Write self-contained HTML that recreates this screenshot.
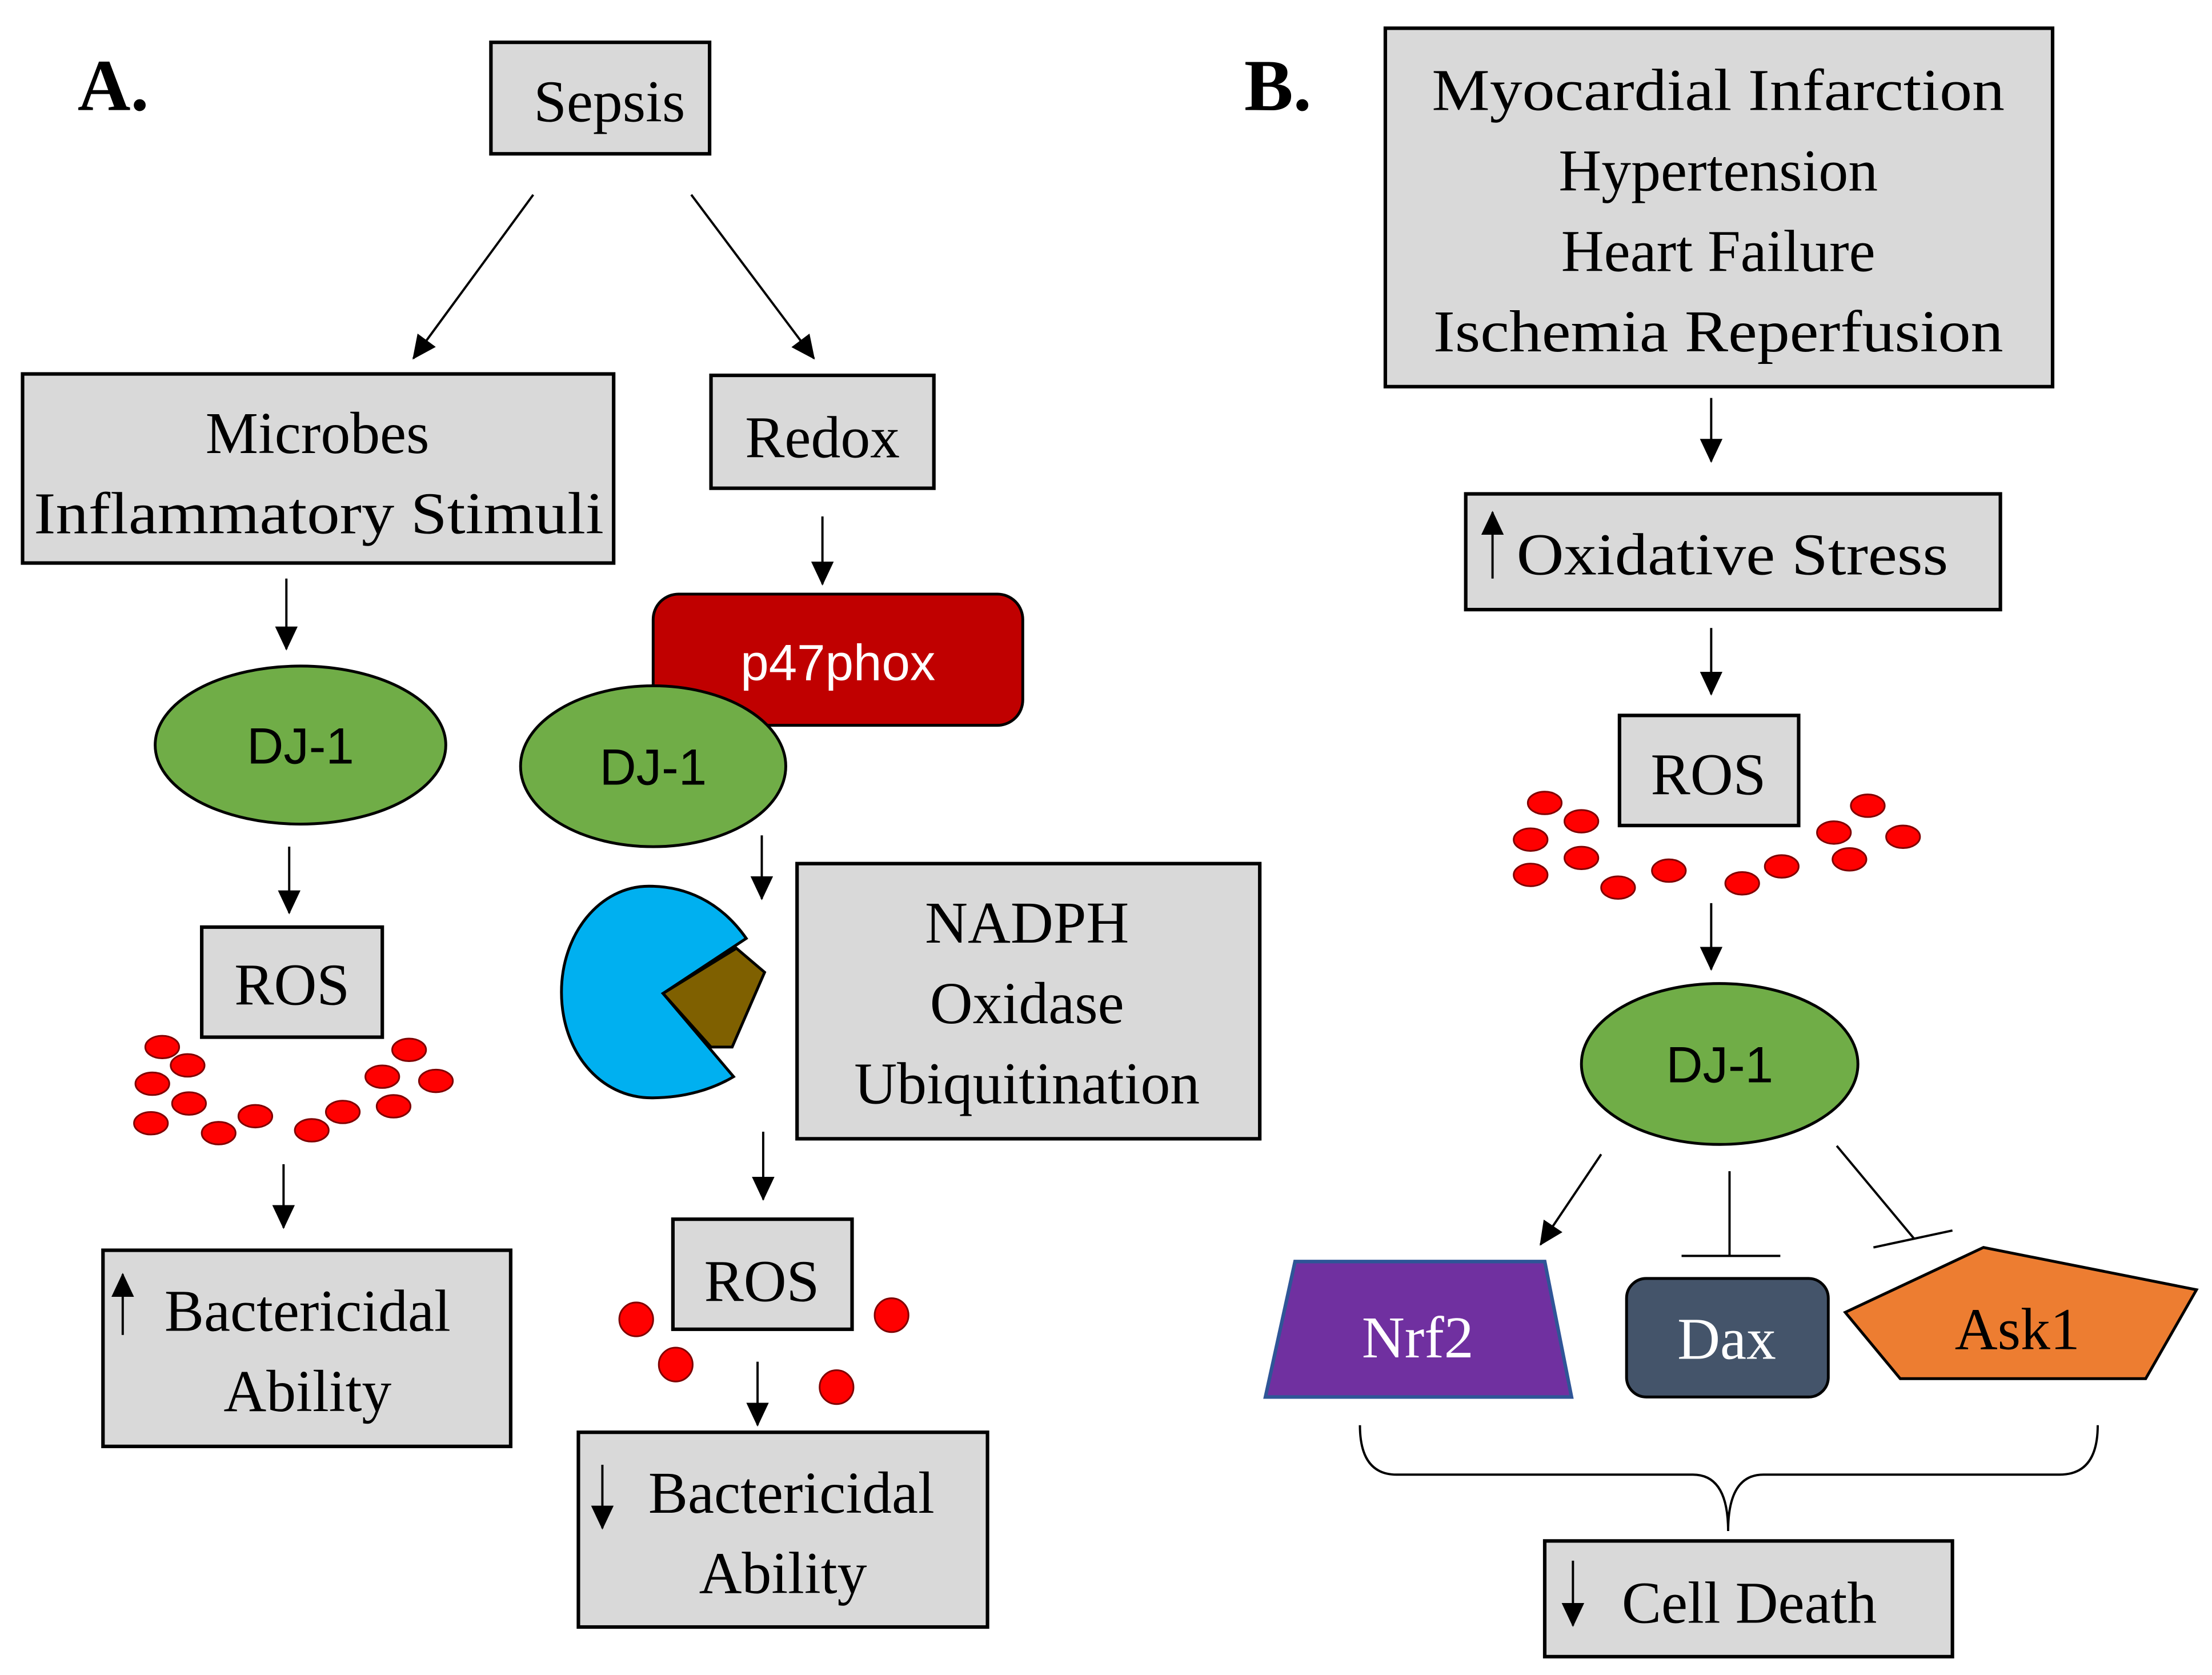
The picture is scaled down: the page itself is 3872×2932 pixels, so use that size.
<!DOCTYPE html>
<html><head><meta charset="utf-8"><style>
html,body{margin:0;padding:0;background:#fff;}
svg{display:block;}
.s{font-family:"Liberation Serif",serif;font-size:42px;fill:#000;text-anchor:middle;}
.ss{font-family:"Liberation Sans",sans-serif;font-size:36px;text-anchor:middle;}
.box{fill:#D9D9D9;stroke:#000;stroke-width:2.5;}
.ln{stroke:#000;stroke-width:1.6;fill:none;}
.dot{fill:#FF0000;stroke:#7F0000;stroke-width:1.2;}
.dj{fill:#70AD47;stroke:#000;stroke-width:2;}
</style></head><body>
<svg width="3872" height="2932" viewBox="0 0 1568 1187" preserveAspectRatio="none" xmlns="http://www.w3.org/2000/svg">
<defs>
<marker id="ah" markerWidth="18" markerHeight="18" refX="16" refY="9" orient="auto" markerUnits="userSpaceOnUse" viewBox="0 0 18 18">
<path d="M0,1 L17,9 L0,17 z" fill="#000"/></marker>
</defs>
<rect width="1568" height="1187" fill="#fff"/>

<!-- Panel A -->
<text x="55" y="78" font-family="Liberation Serif,serif" font-weight="bold" font-size="52">A.</text>
<rect class="box" x="348" y="30" width="155" height="79"/>
<text class="s" x="432" y="86">Sepsis</text>
<line class="ln" x1="378" y1="138" x2="293" y2="254" marker-end="url(#ah)"/>
<line class="ln" x1="490" y1="138" x2="577" y2="254" marker-end="url(#ah)"/>

<rect class="box" x="16" y="265" width="419" height="134"/>
<text class="s" x="225" y="321">Microbes</text>
<text class="s" x="226" y="378" textLength="404" lengthAdjust="spacingAndGlyphs">Inflammatory  Stimuli</text>

<rect class="box" x="504" y="266" width="158" height="80"/>
<text class="s" x="583" y="324">Redox</text>

<line class="ln" x1="203" y1="410" x2="203" y2="460" marker-end="url(#ah)"/>
<line class="ln" x1="583" y1="366" x2="583" y2="414" marker-end="url(#ah)"/>

<rect x="463" y="421" width="262" height="93" rx="18" fill="#C00000" stroke="#000" stroke-width="2"/>
<text class="ss" x="594" y="482" fill="#fff">p47phox</text>

<ellipse class="dj" cx="213" cy="528" rx="103" ry="56"/>
<text class="ss" x="213" y="541" fill="#000">DJ-1</text>
<ellipse class="dj" cx="463" cy="543" rx="94" ry="57"/>
<text class="ss" x="463" y="556" fill="#000">DJ-1</text>

<line class="ln" x1="205" y1="600" x2="205" y2="647" marker-end="url(#ah)"/>
<rect class="box" x="143" y="657" width="128" height="78"/>
<text class="s" x="207" y="712">ROS</text>
<g class="dot">
<ellipse cx="115" cy="742" rx="12" ry="8"/><ellipse cx="133" cy="755" rx="12" ry="8"/>
<ellipse cx="108" cy="768" rx="12" ry="8"/><ellipse cx="134" cy="782" rx="12" ry="8"/>
<ellipse cx="107" cy="796" rx="12" ry="8"/><ellipse cx="155" cy="803" rx="12" ry="8"/>
<ellipse cx="181" cy="791" rx="12" ry="8"/><ellipse cx="221" cy="801" rx="12" ry="8"/>
<ellipse cx="243" cy="788" rx="12" ry="8"/><ellipse cx="271" cy="763" rx="12" ry="8"/>
<ellipse cx="290" cy="744" rx="12" ry="8"/><ellipse cx="309" cy="766" rx="12" ry="8"/>
<ellipse cx="279" cy="784" rx="12" ry="8"/>
</g>
<line class="ln" x1="201" y1="825" x2="201" y2="870" marker-end="url(#ah)"/>
<rect class="box" x="73" y="886" width="289" height="139"/>
<line class="ln" x1="87" y1="946" x2="87" y2="903" marker-end="url(#ah)"/>
<text class="s" x="218" y="943">Bactericidal</text>
<text class="s" x="218" y="1000">Ability</text>

<line class="ln" x1="540" y1="592" x2="540" y2="637" marker-end="url(#ah)"/>
<path d="M470,704 L529,665 C510,638 485,628 460,628 C425,628 398,662 398,703 C398,745 425,778 462,778 C485,778 505,772 520,763 Z" fill="#00B0F0" stroke="#000" stroke-width="2"/>
<polygon points="470,704 522,672 542,689 519,742 504,742" fill="#7F6000" stroke="#000" stroke-width="2"/>

<rect class="box" x="565" y="612" width="328" height="195"/>
<text class="s" x="728" y="668">NADPH</text>
<text class="s" x="728" y="725">Oxidase</text>
<text class="s" x="728" y="782">Ubiquitination</text>

<line class="ln" x1="541" y1="802" x2="541" y2="850" marker-end="url(#ah)"/>
<rect class="box" x="477" y="864" width="127" height="78"/>
<text class="s" x="540" y="922">ROS</text>
<g class="dot">
<circle cx="451" cy="935" r="12"/><circle cx="479" cy="967" r="12"/>
<circle cx="632" cy="932" r="12"/><circle cx="593" cy="983" r="12"/>
</g>
<line class="ln" x1="537" y1="965" x2="537" y2="1010" marker-end="url(#ah)"/>
<rect class="box" x="410" y="1015" width="290" height="138"/>
<line class="ln" x1="427" y1="1038" x2="427" y2="1083" marker-end="url(#ah)"/>
<text class="s" x="561" y="1072">Bactericidal</text>
<text class="s" x="555" y="1129">Ability</text>

<!-- Panel B -->
<text x="882" y="78" font-family="Liberation Serif,serif" font-weight="bold" font-size="52">B.</text>
<rect class="box" x="982" y="20" width="473" height="254"/>
<text class="s" x="1218" y="78" textLength="406" lengthAdjust="spacingAndGlyphs">Myocardial  Infarction</text>
<text class="s" x="1218" y="135">Hypertension</text>
<text class="s" x="1218" y="192">Heart Failure</text>
<text class="s" x="1218" y="249" textLength="404" lengthAdjust="spacingAndGlyphs">Ischemia  Reperfusion</text>

<line class="ln" x1="1213" y1="282" x2="1213" y2="327" marker-end="url(#ah)"/>
<rect class="box" x="1039" y="350" width="379" height="82"/>
<line class="ln" x1="1058" y1="410" x2="1058" y2="363" marker-end="url(#ah)"/>
<text class="s" x="1228" y="407" textLength="306" lengthAdjust="spacingAndGlyphs">Oxidative  Stress</text>

<line class="ln" x1="1213" y1="445" x2="1213" y2="492" marker-end="url(#ah)"/>
<rect class="box" x="1148" y="507" width="127" height="78"/>
<text class="s" x="1211" y="563">ROS</text>
<g class="dot">
<ellipse cx="1095" cy="569" rx="12" ry="8"/><ellipse cx="1121" cy="582" rx="12" ry="8"/>
<ellipse cx="1085" cy="595" rx="12" ry="8"/><ellipse cx="1121" cy="608" rx="12" ry="8"/>
<ellipse cx="1085" cy="620" rx="12" ry="8"/><ellipse cx="1147" cy="629" rx="12" ry="8"/>
<ellipse cx="1183" cy="617" rx="12" ry="8"/><ellipse cx="1235" cy="626" rx="12" ry="8"/>
<ellipse cx="1263" cy="614" rx="12" ry="8"/><ellipse cx="1300" cy="590" rx="12" ry="8"/>
<ellipse cx="1324" cy="571" rx="12" ry="8"/><ellipse cx="1349" cy="593" rx="12" ry="8"/>
<ellipse cx="1311" cy="609" rx="12" ry="8"/>
</g>
<line class="ln" x1="1213" y1="640" x2="1213" y2="687" marker-end="url(#ah)"/>
<ellipse class="dj" cx="1219" cy="754" rx="98" ry="57"/>
<text class="ss" x="1219" y="767" fill="#000">DJ-1</text>

<line class="ln" x1="1135" y1="818" x2="1092" y2="882" marker-end="url(#ah)"/>
<line class="ln" x1="1226" y1="830" x2="1226" y2="890" stroke-width="1.2"/>
<line class="ln" x1="1192" y1="890" x2="1262" y2="890" stroke-width="1.2"/>
<line class="ln" x1="1302" y1="812" x2="1357" y2="878" stroke-width="1.2"/>
<line class="ln" x1="1328" y1="884" x2="1384" y2="872" stroke-width="1.2"/>

<polygon points="897,990 918,894 1095,894 1114,990" fill="#7030A0" stroke="#2F5597" stroke-width="2.5"/>
<text class="s" x="1005" y="962" style="fill:#fff">Nrf2</text>
<rect x="1153" y="906" width="143" height="84" rx="14" fill="#44546A" stroke="#000" stroke-width="2"/>
<text class="s" x="1224" y="963" style="fill:#fff">Dax</text>
<polygon points="1308,930 1406,884 1557,914 1521,977 1347,977" fill="#ED7D31" stroke="#000" stroke-width="2"/>
<text class="s" x="1430" y="956">Ask1</text>

<path class="ln" stroke-width="1.2" d="M964,1010 Q964,1045 990,1045 L1200,1045 Q1225,1045 1225,1085 Q1225,1045 1250,1045 L1460,1045 Q1487,1045 1487,1010"/>

<rect class="box" x="1095" y="1092" width="289" height="82"/>
<line class="ln" x1="1115" y1="1106" x2="1115" y2="1152" marker-end="url(#ah)"/>
<text class="s" x="1240" y="1150">Cell Death</text>
</svg>
</body></html>
